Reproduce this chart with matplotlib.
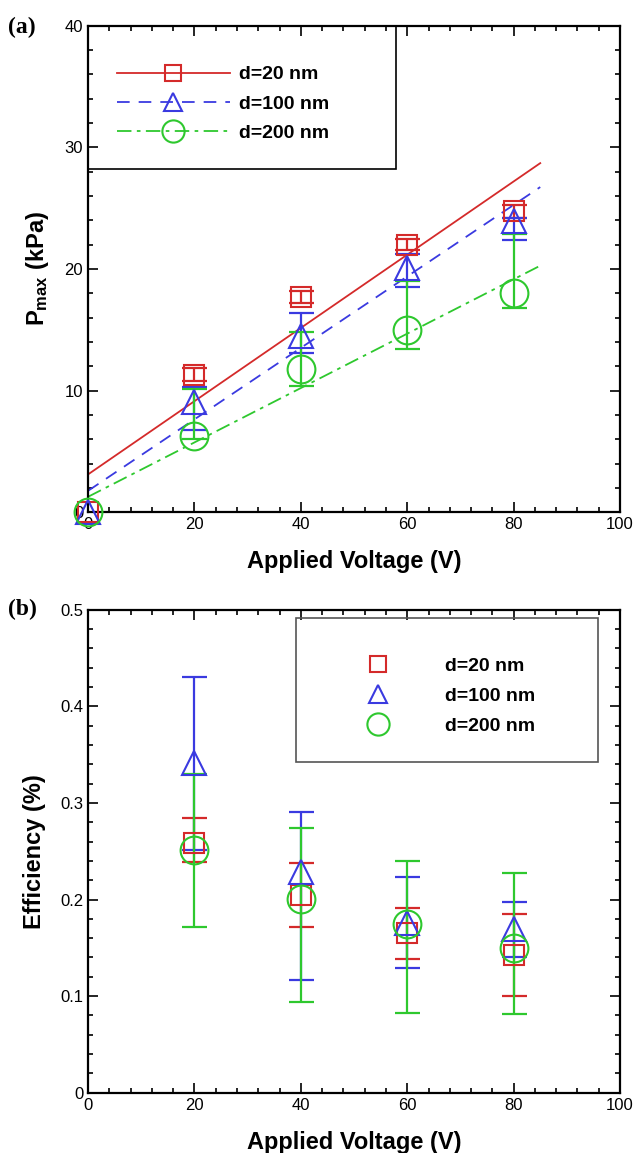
import numpy as np
import matplotlib
matplotlib.use("Agg")
import matplotlib.pyplot as plt
from matplotlib.lines import Line2D
from matplotlib.patches import Rectangle
from matplotlib.ticker import MultipleLocator

plt.rcParams["font.family"] = ["Liberation Sans", "DejaVu Sans"]
plt.rcParams["mathtext.fontset"] = "custom"
plt.rcParams["mathtext.rm"] = "Liberation Sans"
plt.rcParams["mathtext.bf"] = "Liberation Sans:bold"

# ---- data ----
LABELS = ["d=20 nm", "d=100 nm", "d=200 nm"]

# (a) max pressure vs applied voltage
volt_a = [0, 20, 40, 60, 80]
pmax = {
    "d=20 nm":  [0, 11.3, 17.7, 22.0, 24.75],
    "d=100 nm": [0, 9.1, 14.5, 20.05, 23.9],
    "d=200 nm": [0, 6.3, 11.75, 15.0, 18.0],
}
pmax_lo = {
    "d=20 nm":  [0, 0.55, 0.5, 0.45, 0.55],
    "d=100 nm": [0, 2.3, 1.4, 1.5, 1.5],
    "d=200 nm": [0, 0.3, 1.35, 1.6, 1.2],
}
pmax_hi = {
    "d=20 nm":  [0, 0.55, 0.5, 0.45, 0.5],
    "d=100 nm": [0, 1.2, 1.9, 1.15, 0.3],
    "d=200 nm": [0, 3.8, 3.05, 4.0, 4.9],
}
FIT_X = [0, 85]   # extent of the linear fits

# (b) efficiency vs applied voltage
volt_b = [20, 40, 60, 80]
eff = {
    "d=20 nm":  [0.259, 0.205, 0.165, 0.143],
    "d=100 nm": [0.341, 0.229, 0.176, 0.170],
    "d=200 nm": [0.251, 0.201, 0.175, 0.150],
}
eff_lo = {
    "d=20 nm":  [0.020, 0.033, 0.027, 0.043],
    "d=100 nm": [0.090, 0.112, 0.047, 0.029],
    "d=200 nm": [0.079, 0.107, 0.092, 0.069],
}
eff_hi = {
    "d=20 nm":  [0.025, 0.033, 0.026, 0.042],
    "d=100 nm": [0.089, 0.062, 0.047, 0.027],
    "d=200 nm": [0.079, 0.073, 0.065, 0.078],
}

COLORS = {"d=20 nm": "#d42a2a", "d=100 nm": "#3a3ae0", "d=200 nm": "#2ec82e"}
MARKERS = {"d=20 nm": "s", "d=100 nm": "^", "d=200 nm": "o"}
MSIZE = {"d=20 nm": 14, "d=100 nm": 17, "d=200 nm": 20}
LSTYLE = {"d=20 nm": "-", "d=100 nm": (0, (7, 5)), "d=200 nm": (0, (8, 3, 2, 3))}

fig = plt.figure(figsize=(6.41, 11.53), dpi=100)
ax_a = fig.add_axes([0.1373, 0.5557, 0.830, 0.4221])
ax_b = fig.add_axes([0.1373, 0.0523, 0.830, 0.4188])


def style_axes(ax, ymajor, yminor):
    ax.xaxis.set_major_locator(MultipleLocator(20))
    ax.xaxis.set_minor_locator(MultipleLocator(4))
    ax.yaxis.set_major_locator(MultipleLocator(ymajor))
    ax.yaxis.set_minor_locator(MultipleLocator(yminor))
    ax.tick_params(which="both", direction="in", top=True, right=True,
                   labelsize=12, width=1.2)
    ax.tick_params(which="major", length=7)
    ax.tick_params(which="minor", length=3.5)
    for s in ax.spines.values():
        s.set_linewidth(1.6)
    ax.set_xlim(0, 100)
    ax.set_xlabel("Applied Voltage (V)", fontsize=17, fontweight="bold", labelpad=13)


# ---- panel (a) ----
handles = []
for lab in LABELS:
    c = COLORS[lab]
    x = np.array(volt_a, float)
    y = np.array(pmax[lab])
    k, b = np.polyfit(x, y, 1)
    fx = np.array(FIT_X, float)
    ax_a.plot(fx, k * fx + b, color=c, ls=LSTYLE[lab], lw=1.3)
    yerr = [pmax_lo[lab][1:], pmax_hi[lab][1:]]
    ax_a.errorbar(x[1:], y[1:], yerr=yerr, fmt="none", ecolor=c,
                  elinewidth=1.6, capsize=9, capthick=1.6)
    ax_a.plot(x, y, ls="none", marker=MARKERS[lab], ms=MSIZE[lab], mfc="none",
              mec=c, mew=1.5, clip_on=False, zorder=4)
    handles.append(Line2D([], [], color=c, ls=LSTYLE[lab], lw=1.3,
                          marker=MARKERS[lab], ms=MSIZE[lab] * 0.8,
                          mfc="none", mec=c, mew=1.5))

style_axes(ax_a, 10, 2)
ax_a.set_ylim(0, 40)
ax_a.set_ylabel(r"$\mathbf{P_{max}}$ (kPa)", fontsize=17, fontweight="bold", labelpad=10)
ax_a.add_patch(Rectangle((0, 0.705), 0.579, 0.295, transform=ax_a.transAxes,
                         fill=False, ec="black", lw=1.2, zorder=5))
ax_a.legend(handles, LABELS, loc="upper left", bbox_to_anchor=(0.036, 0.9375),
            frameon=False, handlelength=5.8, handletextpad=0.5, labelspacing=0.6,
            borderpad=0, prop={"size": 14, "weight": "bold"})

# ---- panel (b) ----
handles = []
for lab in LABELS:
    c = COLORS[lab]
    ax_b.errorbar(volt_b, eff[lab], yerr=[eff_lo[lab], eff_hi[lab]], fmt="none",
                  ecolor=c, elinewidth=1.6, capsize=9, capthick=1.6)
    ax_b.plot(volt_b, eff[lab], ls="none", marker=MARKERS[lab], ms=MSIZE[lab],
              mfc="none", mec=c, mew=1.5, zorder=4)
    handles.append(Line2D([], [], ls="none", marker=MARKERS[lab],
                          ms=MSIZE[lab] * 0.8, mfc="none", mec=c, mew=1.5))

style_axes(ax_b, 0.1, 0.02)
ax_b.set_ylim(0, 0.5)
ax_b.yaxis.set_major_formatter(plt.FuncFormatter(lambda v, p: "0" if v == 0 else f"{v:.1f}"))
ax_b.set_ylabel("Efficiency (%)", fontsize=17, fontweight="bold", labelpad=10)
ax_b.add_patch(Rectangle((0.391, 0.684), 0.568, 0.299, transform=ax_b.transAxes,
                         fill=False, ec="#555555", lw=1.2, zorder=5))
ax_b.legend(handles, LABELS, loc="upper left", bbox_to_anchor=(0.491, 0.921),
            frameon=False, handlelength=2.0, handletextpad=2.4, labelspacing=0.63,
            borderpad=0, prop={"size": 14, "weight": "bold"})

fig.text(22 / 641, 1 - 27 / 1153, "(a)", family=["Liberation Serif"], fontsize=17,
         fontweight="bold", ha="center", va="center")
fig.text(22 / 641, 1 - 609 / 1153, "(b)", family=["Liberation Serif"], fontsize=17,
         fontweight="bold", ha="center", va="center")

fig.savefig("out.png", dpi=100)
